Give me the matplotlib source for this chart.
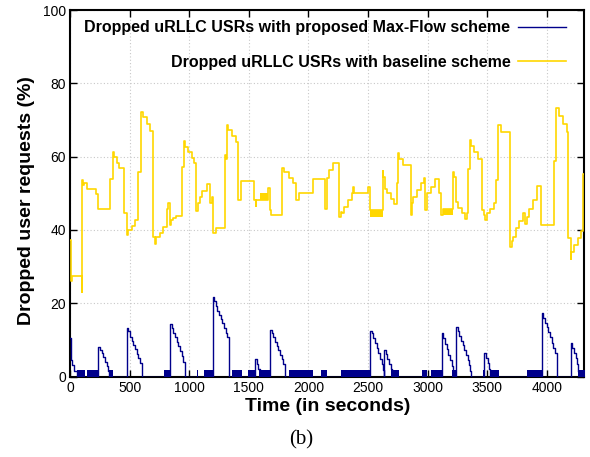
import matplotlib
matplotlib.use("Agg")
import matplotlib.pyplot as plt

# baseline scheme (step curve, value holds until next time)
base_t = [0, 5, 20, 98, 100, 112, 120, 145, 218, 238, 338, 358, 369, 391, 414,
          456, 475, 483, 517, 545, 573, 596, 615, 643, 674, 699, 717, 722, 755,
          783, 811, 825, 836, 845, 861, 889, 937, 956, 965, 993, 1021, 1043,
          1057, 1077, 1091, 1110, 1146, 1175, 1188, 1197, 1225, 1300, 1309,
          1314, 1328, 1362, 1390, 1412, 1435, 1541, 1557, 1562, 1594, 1658,
          1678, 1686, 1781, 1798, 1840, 1868, 1896, 1924, 2036, 2139, 2153,
          2158, 2173, 2209, 2257, 2271, 2279, 2301, 2329, 2363, 2377, 2380,
          2497, 2517, 2623, 2629, 2643, 2662, 2690, 2715, 2740, 2755, 2760,
          2791, 2861, 2870, 2880, 2914, 2945, 2973, 2978, 2998, 3028, 3062,
          3098, 3112, 3132, 3216, 3224, 3238, 3252, 3286, 3314, 3328, 3336,
          3358, 3364, 3392, 3420, 3453, 3476, 3480, 3495, 3523, 3557, 3574,
          3593, 3616, 3694, 3705, 3719, 3742, 3770, 3803, 3817, 3831, 3851,
          3887, 3920, 3951, 4057, 4077, 4105, 4139, 4167, 4181, 4200, 4205,
          4231, 4265, 4287, 4301, 4320]
base_v = [37.3, 26.0, 27.5, 23.0, 53.6, 52.2, 52.8, 51.3, 49.9, 45.8, 53.9,
          61.3, 59.8, 58.4, 56.8, 44.5, 38.6, 40.0, 41.2, 42.7, 55.9, 72.3,
          70.9, 68.9, 67.1, 38.0, 36.2, 38.0, 39.1, 40.9, 45.8, 47.4, 41.3,
          42.7, 43.2, 43.8, 57.1, 64.3, 62.7, 61.2, 59.5, 58.2, 45.2, 47.3,
          49.1, 50.7, 52.5, 47.3, 49.0, 39.1, 40.5, 60.5, 59.3, 68.7, 67.3,
          65.6, 63.9, 48.3, 53.3, 48.2, 46.5, 48.3, 48.3, 51.5, 45.4, 44.2,
          57.0, 55.9, 54.3, 52.9, 48.3, 50.0, 54.0, 45.8, 47.3, 54.3, 56.3,
          58.2, 43.6, 45.0, 44.5, 46.4, 48.2, 50.0, 51.6, 50.0, 51.6, 45.4,
          56.2, 54.5, 51.3, 50.0, 48.4, 47.0, 52.9, 60.9, 59.3, 57.6, 44.0,
          47.3, 49.1, 50.9, 52.7, 54.3, 45.4, 50.0, 51.8, 54.0, 50.0, 44.0,
          45.6, 55.8, 54.5, 47.5, 45.9, 44.5, 43.0, 44.5, 56.7, 64.5, 62.8,
          61.2, 59.4, 45.4, 44.0, 42.8, 44.5, 45.8, 47.3, 53.6, 68.7, 66.6,
          35.4, 37.0, 38.2, 40.5, 42.5, 44.5, 41.6, 43.6, 45.8, 48.2, 52.0,
          41.3, 58.7, 73.2, 71.1, 68.9, 66.6, 37.8, 32.0, 34.1, 35.9, 37.8,
          39.6, 55.3, 55.3]
# dense flicker on the baseline curve: (start, end, low, high)
base_blocks = [(1594, 1658, 48.3, 50.0), (2517, 2623, 43.6, 45.4),
               (3132, 3216, 44.0, 45.6)]

# proposed Max-Flow scheme
flow_t = [0, 5, 12, 19, 30, 42, 56,
          238, 252, 266, 280, 294, 308, 322, 330,
          475, 489, 503, 517, 531, 545, 559, 573, 587, 601,
          839, 853, 867, 881, 895, 909, 923, 937, 951, 965,
          1197, 1208, 1222, 1236, 1250, 1264, 1278, 1292, 1306, 1320, 1330,
          1552, 1566, 1580, 1590,
          1678, 1692, 1706, 1720, 1734, 1748, 1762, 1776, 1790, 1800, 1804,
          2517, 2531, 2545, 2559, 2573, 2587, 2601, 2615, 2623, 2634,
          2634, 2648, 2662, 2676, 2690, 2700,
          3118, 3132, 3146, 3160, 3174, 3188, 3202, 3210, 3215,
          3238, 3252, 3266, 3280, 3294, 3308, 3322, 3336, 3350, 3358, 3361,
          3476, 3490, 3504, 3518, 3524,
          3957, 3971, 3985, 3999, 4013, 4027, 4041, 4055, 4069, 4083,
          4200, 4214, 4228, 4242, 4256, 4265]
flow_v = [10.4, 5.9, 4.5, 3.2, 1.6, 1.6, 0,
          8.2, 7.3, 6.4, 5.3, 4.1, 2.9, 1.6, 0,
          13.3, 12.3, 10.9, 9.8, 8.6, 7.4, 6.2, 5.0, 3.8, 0,
          14.3, 13.2, 11.8, 10.7, 9.5, 8.4, 7.1, 5.6, 4.1, 0,
          21.6, 20.6, 19.3, 18.0, 16.8, 15.6, 14.5, 13.3, 12.0, 10.7, 0,
          4.8, 3.4, 2.2, 0,
          12.7, 11.8, 10.7, 9.5, 8.4, 7.2, 6.0, 4.8, 3.3, 1.6, 0,
          12.5, 11.8, 10.4, 9.1, 7.7, 6.5, 4.9, 3.5, 1.8, 0,
          7.2, 6.1, 4.7, 3.4, 2.0, 0,
          11.8, 10.4, 8.8, 7.4, 5.8, 4.4, 3.0, 1.7, 0,
          13.5, 12.3, 11.1, 9.8, 8.6, 7.3, 5.9, 4.5, 3.2, 1.6, 0,
          6.4, 5.0, 3.6, 2.2, 0,
          17.3, 15.9, 14.7, 13.4, 12.1, 10.7, 9.2, 7.9, 6.5, 0,
          9.1, 7.9, 6.5, 5.1, 3.4, 1.6]
flow_blocks = [(56, 126), (140, 238), (330, 363), (792, 839), (1063, 1071),
               (1124, 1197), (1356, 1440), (1490, 1552), (1585, 1678),
               (1837, 2041), (2106, 2159), (2274, 2517), (2690, 2760),
               (2950, 2998), (3028, 3118), (3202, 3238), (3468, 3476),
               (3524, 3602), (3837, 3957), (4265, 4320)]
flow_block_h = 1.7

plt.rcParams['font.family'] = ['Liberation Sans', 'DejaVu Sans']

fig = plt.figure(figsize=(5.9, 4.57), dpi=100)
ax = fig.add_axes([0.1186, 0.176, 0.872, 0.802])

blue = '#00008b'
gold = '#ffd700'

ax.step(flow_t, flow_v, where='post', color=blue, lw=1.0,
        label='Dropped uRLLC USRs with proposed Max-Flow scheme', zorder=4)
for a, b in flow_blocks:
    ax.fill_between([a, b], 0, flow_block_h, color=blue, lw=0, zorder=4)

ax.step(base_t, base_v, where='post', color=gold, lw=1.2,
        label='Dropped uRLLC USRs with baseline scheme', zorder=3)
for a, b, lo, hi in base_blocks:
    ax.fill_between([a, b], lo, hi, color=gold, lw=0, zorder=3)

ax.set_xlim(0, 4315)
ax.set_ylim(0, 100)
ax.set_xticks(range(0, 4001, 500))
ax.set_yticks(range(0, 101, 20))
ax.tick_params(direction='in', top=True, right=True, labelsize=10,
               length=5, width=1, pad=3)
ax.grid(True, color='#c8c8c8', ls=(0, (1, 2)), lw=0.8)
for s in ax.spines.values():
    s.set_linewidth(1.5)

ax.set_xlabel('Time (in seconds)', fontsize=14, fontweight='bold', labelpad=2)
ax.set_ylabel('Dropped user requests (%)', fontsize=14, fontweight='bold')
ax.yaxis.set_label_coords(-0.068, 0.48)

ax.legend(loc='upper right', frameon=False, markerfirst=False,
          prop={'weight': 'bold', 'size': 11.5}, handlelength=3.0,
          labelspacing=1.2, borderaxespad=0.25, handletextpad=0.5,
          bbox_to_anchor=(0.985, 1.0))

fig.text(0.51, 0.038, '(b)', ha='center', va='center', fontsize=15,
         family='Liberation Serif')

fig.savefig('out.png', dpi=100)
